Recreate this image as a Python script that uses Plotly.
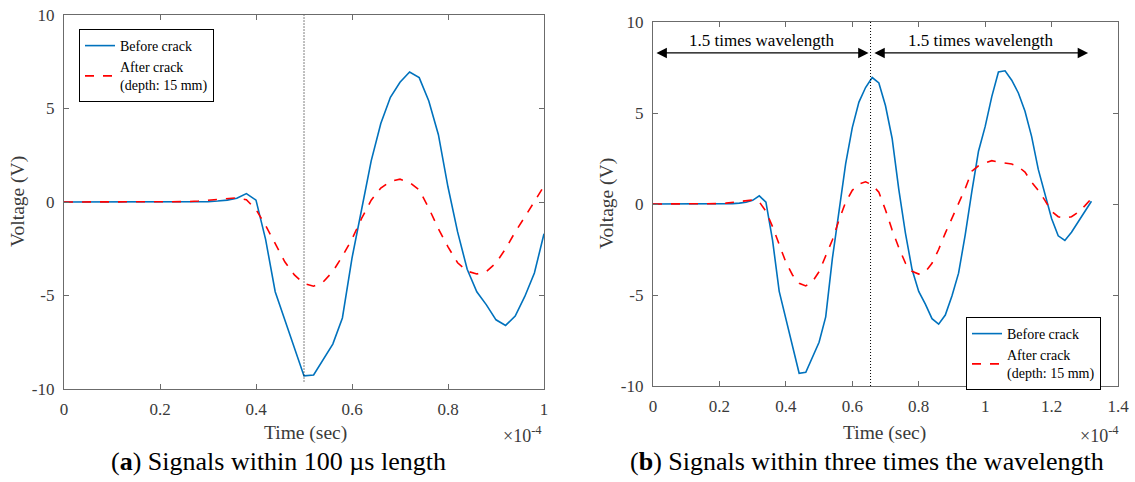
import plotly.graph_objects as go

# ---------------- data ----------------
SAMPLE_STEP_S = 2e-6  # sampling period (seconds)

# Panel (a): signals within 100 us length
before_a = [0, 0, 0, 0, 0, 0, 0, 0, 0, 0, 0, 0, 0, 0, 0,
            0.02, 0.05, 0.1, 0.2, 0.45, 0.1, -2.0, -4.8, -6.3, -7.8,
            -9.3, -9.25, -8.4, -7.6, -6.2, -3.0, -0.4, 2.2, 4.2, 5.6,
            6.4, 6.95, 6.65, 5.4, 3.6, 0.8, -1.6, -3.6, -4.8, -5.5,
            -6.3, -6.6, -6.1, -5.05, -3.8, -1.7]
after_a = [0, 0, 0, 0, 0, 0, 0, 0, 0, 0, 0, 0, 0,
           0.02, 0.05, 0.1, 0.15, 0.2, 0.22, 0.12, -0.4, -1.25, -2.25,
           -3.2, -3.9, -4.36, -4.5, -4.27, -3.72, -2.9, -1.98, -0.88, 0.1,
           0.75, 1.1, 1.22, 1.05, 0.65, -0.33, -1.43, -2.4, -3.25, -3.7,
           -3.85, -3.72, -3.26, -2.5, -1.6, -0.8, 0.04, 0.85]

# Panel (b): signals within three times the wavelength
before_b = [0, 0, 0, 0, 0, 0, 0, 0, 0, 0, 0, 0,
            0.02, 0.05, 0.1, 0.2, 0.45, 0.1, -2.0, -4.8, -6.3, -7.8,
            -9.3, -9.25, -8.4, -7.6, -6.2, -3.0, -0.4, 2.2, 4.2, 5.6,
            6.4, 6.95, 6.65, 5.4, 3.6, 0.8, -1.6, -3.6, -4.8, -5.5,
            -6.3, -6.6, -6.1, -5.05, -3.8, -1.7, 0.7, 2.9, 4.25, 5.9,
            7.25, 7.32, 6.8, 6.1, 5.1, 3.7, 1.9, 0.5, -0.8, -1.75,
            -2.0, -1.55, -1.0, -0.4, 0.15]
after_b = [0, 0, 0, 0, 0, 0, 0, 0, 0, 0,
           0.02, 0.05, 0.1, 0.15, 0.2, 0.22, 0.12, -0.4, -1.25, -2.25,
           -3.2, -3.9, -4.36, -4.5, -4.27, -3.72, -2.9, -1.98, -0.88, 0.1,
           0.75, 1.1, 1.22, 1.05, 0.65, -0.33, -1.43, -2.4, -3.25, -3.7,
           -3.85, -3.72, -3.26, -2.5, -1.6, -0.8, 0.04, 0.85, 1.8, 2.1,
           2.25, 2.38, 2.3, 2.25, 2.2, 2.05, 1.75, 1.2, 0.75, 0.2,
           -0.4, -0.7, -0.78, -0.7, -0.45, -0.1, 0.3]

marker_a_s = 0.5e-4      # dotted marker line, panel (a)
marker_b_s = 0.655e-4    # dotted marker line, panel (b)
arrow_end_b_s = 1.31e-4  # end of second 1.5-wavelength span
arrow_level_v = 8.3

x_ticks_a = [0, 0.2, 0.4, 0.6, 0.8, 1]
x_ticks_b = [0, 0.2, 0.4, 0.6, 0.8, 1, 1.2, 1.4]
y_ticks = [-10, -5, 0, 5, 10]
y_ticklabels = ["-10", "-5", "0", "5", "10"]

SCALE = 1e4  # plot time in units of 1e-4 s

def times(values):
    return [i * SAMPLE_STEP_S * SCALE for i in range(len(values))]

BLUE = "#0072BD"
RED = "#FF0000"
AXC = "#6b6b6b"
TXC = "#3a3a3a"
SERIF = "Liberation Serif, Times New Roman, serif"

fig = go.Figure()

fig.add_trace(go.Scatter(x=times(before_a), y=before_a, mode="lines", name="Before crack",
                         line=dict(color=BLUE, width=1.6), xaxis="x", yaxis="y", legend="legend"))
fig.add_trace(go.Scatter(x=times(after_a), y=after_a, mode="lines", name="After crack<br>(depth: 15 mm)",
                         line=dict(color=RED, width=1.6, dash="dash"), xaxis="x", yaxis="y", legend="legend"))
fig.add_trace(go.Scatter(x=times(before_b), y=before_b, mode="lines", name="Before crack",
                         line=dict(color=BLUE, width=1.6), xaxis="x2", yaxis="y2", legend="legend2"))
fig.add_trace(go.Scatter(x=times(after_b), y=after_b, mode="lines", name="After crack<br>(depth: 15 mm)",
                         line=dict(color=RED, width=1.6, dash="dash"), xaxis="x2", yaxis="y2", legend="legend2"))

W, H = 1135, 482

def px(x):
    return x / W

def py(y):
    return 1 - y / H

axis_common = dict(showline=True, linecolor=AXC, linewidth=1.2, mirror="ticks", ticks="inside",
                   ticklen=5, tickcolor=AXC, tickwidth=1, showgrid=False, zeroline=False,
                   automargin=False, tickfont=dict(family=SERIF, size=17, color=TXC))

legend_common = dict(xanchor="left", yanchor="top", bordercolor="#000000", borderwidth=1,
                     bgcolor="white", font=dict(family=SERIF, size=14, color="#000000"),
                     tracegroupgap=0, itemwidth=30)

fig.update_layout(
    width=W, height=H,
    margin=dict(l=0, r=0, t=0, b=0, autoexpand=False),
    paper_bgcolor="white", plot_bgcolor="white",
    xaxis=dict(domain=[px(64), px(544)], range=[0, 1], anchor="y",
               tickvals=x_ticks_a, ticktext=[f"{v:g}" for v in x_ticks_a],
               ticklabelstandoff=4, **axis_common),
    yaxis=dict(domain=[py(389), py(15)], range=[-10, 10], anchor="x",
               tickvals=y_ticks, ticktext=y_ticklabels, ticklabelstandoff=5, **axis_common),
    xaxis2=dict(domain=[px(653), px(1118)], range=[0, 1.4], anchor="y2",
                tickvals=x_ticks_b, ticktext=[f"{v:g}" for v in x_ticks_b],
                ticklabelstandoff=4, **axis_common),
    yaxis2=dict(domain=[py(386), py(22)], range=[-10, 10], anchor="x2",
                tickvals=y_ticks, ticktext=y_ticklabels, ticklabelstandoff=5, **axis_common),
    legend=dict(x=px(79), y=py(29), **legend_common),
    legend2=dict(x=px(966), y=py(317), **legend_common),
    showlegend=True,
)

# dotted marker lines
fig.add_shape(type="line", xref="x", yref="y", x0=marker_a_s * SCALE, x1=marker_a_s * SCALE,
              y0=-9.6, y1=10, line=dict(color="#000000", width=1, dash="1px,2px"))
fig.add_shape(type="line", xref="x2", yref="y2", x0=marker_b_s * SCALE, x1=marker_b_s * SCALE,
              y0=-10, y1=10, line=dict(color="#000000", width=1, dash="1px,2px"))

# double-headed arrows in panel (b)
arrow_spans = [(0.006e-4, marker_b_s - 0.006e-4), (marker_b_s + 0.007e-4, arrow_end_b_s)]
for x_start, x_end in arrow_spans:
    fig.add_annotation(x=x_end * SCALE, y=arrow_level_v, ax=x_start * SCALE, ay=arrow_level_v,
                       xref="x2", yref="y2", axref="x2", ayref="y2", text="",
                       showarrow=True, arrowhead=2, arrowside="end+start", arrowsize=1.6,
                       arrowwidth=1.3, arrowcolor="#000000", standoff=0, startstandoff=0)
    fig.add_annotation(x=(x_start + x_end) / 2 * SCALE, y=arrow_level_v, xref="x2", yref="y2",
                       text="1.5 times wavelength", showarrow=False, yanchor="bottom", yshift=1,
                       font=dict(family=SERIF, size=17, color="#000000"))

# axis titles and multipliers
def label(text, x, y, size=19.5, angle=0, color=TXC):
    fig.add_annotation(x=px(x), y=py(y), xref="paper", yref="paper", text=text, showarrow=False,
                       textangle=angle, xanchor="center", yanchor="middle",
                       font=dict(family=SERIF, size=size, color=color))

label("Voltage (V)", 18, 202, angle=-90)
label("Voltage (V)", 607, 204, angle=-90)
label("Time (sec)", 305, 433)
label("Time (sec)", 884, 433)
label("×10<sup>-4</sup>", 522, 434, size=18)
label("×10<sup>-4</sup>", 1099, 434, size=18)

# captions
label("(<b>a</b>) Signals within 100 µs length", 278, 461, size=26, color="#000000")
label("(<b>b</b>) Signals within three times the wavelength", 867, 461, size=26, color="#000000")

fig.write_html("out.html")
